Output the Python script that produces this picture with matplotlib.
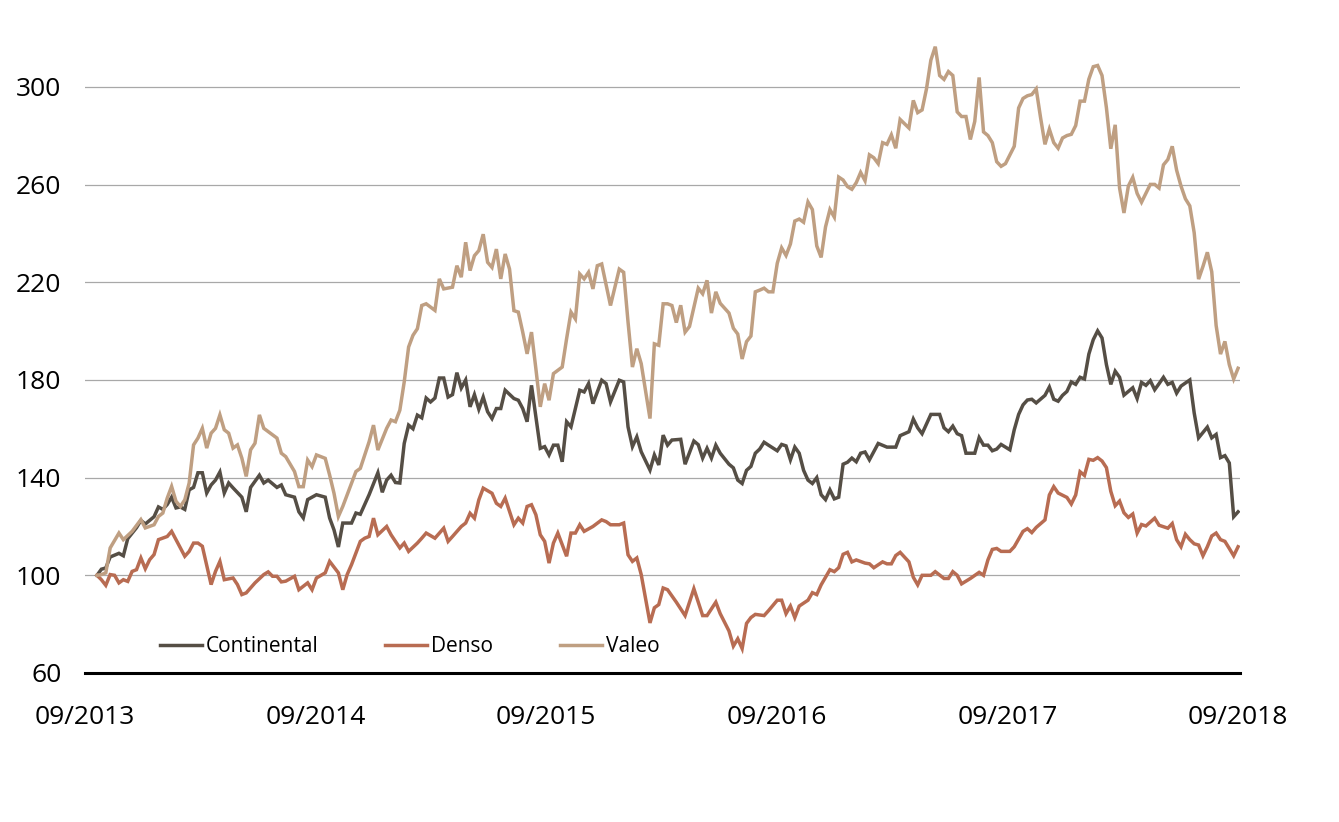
import matplotlib
matplotlib.use("Agg")
import matplotlib.pyplot as plt
import numpy as np

plt.rcParams["font.family"] = ["Open Sans", "DejaVu Sans"]

# weekly observations, week 0 = 09/2013, week 260 = 09/2018 (rebased to 100)
conti_weeks = [0, 1, 2, 3, 5, 6, 7, 9, 10, 11, 13, 14, 15, 16, 17, 18, 19, 20, 21, 22, 23, 24, 25, 26, 27, 28, 29, 30, 31, 33, 34, 35, 37, 38, 39, 41, 42, 43, 45, 46, 47, 48, 50, 52, 53, 54, 55, 56, 58, 59, 60, 62, 64, 65, 66, 67, 68, 69, 70, 71, 72, 73, 74, 75, 76, 77, 78, 79, 80, 81, 82, 83, 84, 85, 86, 87, 88, 89, 90, 91, 92, 93, 95, 96, 97, 98, 99, 101, 102, 103, 104, 105, 106, 107, 108, 110, 111, 112, 113, 115, 116, 117, 119, 120, 121, 122, 123, 124, 126, 127, 128, 129, 130, 131, 133, 134, 136, 137, 138, 139, 140, 141, 142, 144, 145, 146, 147, 148, 149, 150, 151, 152, 153, 155, 156, 157, 158, 159, 160, 161, 162, 163, 164, 165, 166, 167, 168, 169, 170, 171, 172, 173, 174, 175, 176, 178, 180, 182, 183, 185, 186, 187, 188, 189, 190, 192, 193, 194, 195, 196, 197, 198, 200, 201, 202, 203, 204, 205, 206, 208, 209, 210, 211, 212, 213, 214, 216, 217, 218, 219, 220, 221, 222, 223, 224, 225, 226, 227, 228, 229, 230, 231, 232, 233, 234, 235, 236, 237, 238, 239, 240, 241, 242, 243, 244, 245, 246, 247, 249, 250, 251, 252, 253, 254, 255, 256, 257, 258, 259, 260]
conti_vals = [100, 102.5, 103, 107.5, 109, 108, 115, 119.5, 122.5, 121, 124, 128, 127, 129, 132, 127.6, 128, 127, 135, 136, 142, 142, 133.7, 137, 139, 142.3, 133.7, 137.8, 135.8, 132, 126, 136, 141, 137.8, 139, 136, 137, 133, 132, 126, 123.5, 131, 133, 132, 123.5, 118.6, 111.6, 121.4, 121.4, 125.5, 125, 133, 142, 134, 139, 141, 138, 137.8, 154, 161.5, 160, 165.6, 164.5, 172.6, 171, 172.6, 180.8, 180.8, 173, 174, 183, 176.7, 180, 169, 174, 168, 173, 167, 164.2, 168.3, 168.3, 175.8, 172.4, 171.7, 168.3, 162.9, 177.8, 152, 152.7, 149.3, 153.3, 153.3, 146.5, 162.9, 160.8, 175.8, 175.1, 178.5, 170.3, 179.9, 178.5, 171, 179.9, 179.2, 160.8, 152.7, 156.7, 150.6, 143.1, 149.3, 145.2, 157.4, 153.3, 155.4, 155.7, 145.5, 155, 153.5, 148, 152, 148, 153.3, 150, 145.5, 144, 139, 137.6, 143, 144.6, 150, 151.7, 154.5, 153.3, 151, 153.6, 153, 147.3, 152.5, 150, 143, 139, 137.6, 140, 133, 131, 135, 131.3, 132, 145.5, 146.3, 148, 146.5, 150, 150.5, 147.3, 154, 152.5, 152.5, 157.2, 158.8, 164, 160.4, 158, 162, 165.9, 165.9, 160.4, 158.8, 161.1, 158, 157.2, 150, 150, 156.4, 153.3, 153.3, 151, 151.7, 153.6, 151.4, 159.6, 165.9, 169.8, 171.8, 172.1, 170.6, 173.7, 177.1, 172.1, 171.3, 173.7, 175.3, 179.2, 178.2, 181.1, 180.4, 190.6, 196.5, 200.1, 197.2, 186.3, 178.2, 183.6, 181.1, 173.8, 175.3, 176.8, 172.4, 179, 177.8, 179.7, 176, 178.5, 181.1, 178.2, 179, 174.6, 177.5, 180, 166.5, 156.3, 158.5, 160.7, 156.3, 157.7, 148.2, 149, 146, 124, 126]

denso_weeks = [0, 1, 2, 3, 4, 5, 6, 7, 8, 9, 10, 11, 12, 13, 14, 16, 17, 18, 20, 21, 22, 23, 24, 26, 27, 28, 29, 31, 32, 33, 34, 36, 38, 39, 40, 41, 42, 43, 45, 46, 48, 49, 50, 52, 53, 55, 56, 57, 58, 60, 61, 62, 63, 64, 66, 67, 69, 70, 71, 73, 74, 75, 77, 79, 80, 81, 83, 84, 85, 86, 87, 88, 90, 91, 92, 93, 94, 95, 96, 97, 98, 99, 100, 101, 102, 103, 104, 105, 107, 108, 109, 110, 111, 113, 115, 116, 117, 119, 120, 121, 122, 123, 124, 126, 127, 128, 129, 130, 132, 134, 136, 138, 139, 141, 142, 144, 145, 146, 147, 148, 149, 150, 152, 153, 155, 156, 157, 158, 159, 160, 162, 163, 164, 165, 167, 168, 169, 170, 171, 172, 173, 175, 176, 177, 179, 180, 181, 182, 183, 185, 186, 187, 188, 190, 191, 193, 194, 195, 196, 197, 198, 199, 201, 202, 203, 204, 205, 206, 208, 209, 211, 212, 213, 214, 216, 217, 218, 219, 221, 222, 223, 224, 225, 226, 227, 228, 229, 230, 231, 232, 233, 234, 235, 236, 237, 238, 239, 241, 242, 244, 245, 246, 247, 248, 249, 250, 251, 252, 253, 254, 255, 256, 257, 258, 259, 260]
denso_vals = [100, 98.2, 95.9, 100.3, 100, 96.9, 98.2, 97.5, 101.6, 102.3, 107.1, 102.7, 106.4, 108.5, 114.6, 115.9, 118, 114.6, 107.8, 109.8, 113.2, 113.2, 111.9, 96.2, 101.6, 105.7, 98.2, 98.9, 96.2, 92.1, 92.8, 96.9, 100.3, 101.4, 99.6, 99.6, 97.3, 97.6, 99.6, 94.1, 96.9, 94.1, 98.9, 101, 105.7, 101, 94.1, 100.3, 104.4, 113.9, 115.2, 115.9, 123.4, 116.6, 120, 116.6, 111.2, 113.2, 109.8, 113.2, 115.2, 117.3, 115.2, 119.3, 113.9, 115.9, 120, 121.4, 125.4, 123.4, 130.9, 135.7, 133.6, 129.5, 128.2, 131.6, 126.1, 120.7, 123.4, 121.4, 128.2, 128.9, 124.8, 116.6, 113.9, 105, 113.2, 117.3, 107.8, 117.3, 117.3, 120.7, 118, 120, 122.7, 122, 120.7, 120.7, 121.4, 108.4, 105.7, 107.1, 100.3, 80.5, 86.7, 88, 94.8, 94.1, 89, 83.5, 94.5, 83.5, 83.5, 89, 84.3, 77.2, 71, 74, 70, 80.3, 82.7, 84, 83.5, 85.5, 89.8, 89.8, 84.3, 87.4, 82.7, 87.4, 89.8, 92.9, 92.1, 96.1, 102.3, 101.5, 103.1, 108.6, 109.4, 105.5, 106.3, 105, 104.7, 103.1, 105.5, 104.7, 104.7, 108.1, 109.4, 105.5, 99.2, 96.1, 100, 100, 101.5, 98.7, 98.7, 101.5, 100, 96.5, 97.6, 98.7, 101.2, 100, 106.3, 110.6, 111, 109.8, 109.8, 111.7, 118, 119.1, 117.5, 119.6, 122.7, 132.9, 136.3, 133.7, 131.9, 129.2, 132.9, 142.4, 140.9, 147.5, 147.1, 148.2, 146.8, 144.1, 134.4, 128.5, 130.4, 125.6, 123.7, 125.1, 117.3, 120.8, 120.2, 123.4, 120.5, 119.3, 121.2, 114.6, 111.7, 116.8, 114.6, 112.9, 112.4, 108, 111.7, 116.1, 117.3, 114.6, 113.9, 111, 108, 111.7]

valeo_weeks = [0, 1, 2, 3, 5, 6, 8, 10, 11, 13, 14, 15, 16, 17, 18, 19, 20, 21, 22, 23, 24, 25, 26, 27, 28, 29, 30, 31, 32, 33, 34, 35, 36, 37, 38, 40, 41, 42, 43, 45, 46, 47, 48, 49, 50, 52, 53, 54, 55, 56, 58, 59, 60, 62, 63, 64, 66, 67, 68, 69, 70, 71, 72, 73, 74, 75, 77, 78, 79, 81, 82, 83, 84, 85, 86, 87, 88, 89, 90, 91, 92, 93, 94, 95, 96, 97, 98, 99, 100, 101, 102, 103, 104, 106, 107, 108, 109, 110, 111, 112, 113, 114, 115, 117, 119, 120, 121, 122, 123, 124, 126, 127, 128, 129, 130, 131, 132, 133, 134, 135, 137, 138, 139, 140, 141, 142, 144, 145, 146, 147, 148, 149, 150, 151, 152, 153, 154, 155, 156, 157, 158, 159, 160, 161, 162, 163, 164, 165, 166, 167, 168, 169, 170, 171, 172, 173, 174, 175, 176, 177, 178, 179, 180, 181, 182, 183, 185, 186, 187, 188, 189, 190, 191, 192, 193, 194, 195, 196, 197, 198, 199, 200, 201, 202, 203, 204, 205, 206, 207, 209, 210, 211, 212, 213, 214, 215, 216, 217, 218, 219, 220, 221, 222, 223, 224, 225, 226, 227, 228, 229, 230, 231, 232, 233, 234, 235, 236, 237, 238, 239, 240, 241, 242, 243, 244, 245, 246, 247, 248, 249, 250, 251, 252, 253, 254, 255, 256, 257, 258, 259, 260]
valeo_vals = [100, 100.3, 101, 111.2, 117.3, 114.6, 118, 122.8, 119.4, 120.7, 124.1, 125.5, 131.6, 136.4, 130.3, 128.2, 130.9, 137.8, 153.4, 156.2, 160.2, 152.1, 158.2, 160.2, 165.7, 159.6, 158.2, 152.1, 153.4, 148, 140.5, 151.4, 154.1, 165.7, 160.2, 157.5, 156.2, 150, 148.6, 142.5, 136.3, 136.3, 147.2, 144.5, 149.3, 147.9, 141.1, 133.6, 124.1, 128.2, 137.7, 142.5, 143.8, 154.7, 161.5, 151.3, 160.2, 163.6, 162.9, 167.6, 179.2, 193.5, 198.3, 201, 210.5, 211.2, 208.5, 221.4, 217.3, 218, 226.8, 222.1, 236.4, 224.8, 230.9, 233, 239.7, 228.2, 226.1, 233.6, 221.4, 231.6, 225.4, 208.4, 207.8, 199.6, 190.7, 199.6, 184.6, 169, 178.5, 171.7, 182.6, 185.3, 196.9, 207.8, 205, 223.4, 221.4, 224.1, 217.3, 226.8, 227.5, 210.5, 225.4, 224.1, 203.7, 185.3, 192.8, 186.7, 164.2, 194.8, 194.2, 211.2, 211.2, 210.5, 203.5, 210.6, 199.6, 201.9, 217.6, 215.3, 220.8, 207.4, 216.1, 211.4, 207.4, 201.2, 198.8, 188.6, 195.7, 198, 216.1, 216.8, 217.6, 216.1, 216.1, 227.8, 234.1, 231, 235.7, 245.1, 245.9, 244.6, 252.9, 249.8, 234.9, 230.2, 242.7, 249.8, 246.7, 263.1, 261.9, 259.2, 258.1, 260.8, 265, 261.6, 272.2, 271, 268.6, 277.2, 276.5, 280.4, 274.9, 286.7, 283.2, 294.5, 289.5, 290.6, 299.2, 311, 316.5, 304.7, 303.1, 306.3, 304.7, 289.8, 287.9, 287.9, 278.5, 285.9, 303.9, 281.6, 280.1, 277.2, 269.4, 267.5, 268.6, 275.7, 291.4, 295.3, 296.4, 296.9, 299.2, 287.4, 276.5, 282.7, 277.2, 274.9, 279.1, 280.1, 280.6, 284.2, 294.2, 294.2, 303.2, 308.3, 308.8, 304.7, 291.5, 274.7, 284.5, 258.6, 248.4, 259.4, 263, 256.4, 252.8, 256.4, 260.1, 260.1, 258.6, 268.1, 270.3, 275.7, 265.9, 259.4, 254.2, 251.3, 240.3, 221.3, 226.5, 232.3, 224.3, 202.3, 190.6, 195.8, 186.3, 180.4, 184.8]

x_labels = ["09/2013", "09/2014", "09/2015", "09/2016", "09/2017", "09/2018"]
y_ticks = [60, 100, 140, 180, 220, 260, 300]

SERIES = [
    ("Continental", conti_weeks, conti_vals, "#554e45"),
    ("Denso", denso_weeks, denso_vals, "#b86c52"),
    ("Valeo", valeo_weeks, valeo_vals, "#bf9f82"),
]

fig = plt.figure(figsize=(13.39, 8.22), dpi=100)
ax = fig.add_axes([0.0635, 0.1813, 0.8626, 0.7723])

for name, weeks, vals, color in SERIES:
    ax.plot(weeks, vals, color=color, linewidth=2.5, label=name,
            solid_joinstyle="miter", zorder=3)

x_left = -2.73
ax.set_xlim(x_left, 260.45)
ax.set_ylim(60, 320)
# labels run evenly from the left edge of the plot to the last week
ax.set_xticks(np.linspace(x_left, max(conti_weeks), len(x_labels)))
ax.set_xticklabels(x_labels)
ax.set_yticks(y_ticks)

for y in y_ticks[1:]:
    ax.axhline(y, color="#a8a8a8", linewidth=0.9, zorder=1)

for s in ["top", "right", "left"]:
    ax.spines[s].set_visible(False)
ax.spines["bottom"].set_color("black")
ax.spines["bottom"].set_linewidth(2.2)
ax.spines["bottom"].set_zorder(4)

ax.tick_params(axis="both", length=0, labelsize=19, colors="black")
ax.tick_params(axis="y", pad=17)
ax.tick_params(axis="x", pad=23)

ax.legend(ncol=3, loc="center left", bbox_to_anchor=(0.065, 0.042),
          frameon=False, fontsize=15, handlelength=2.0, handletextpad=0.2,
          columnspacing=3.2, borderaxespad=0, borderpad=0)

fig.savefig("out.png", dpi=100)
